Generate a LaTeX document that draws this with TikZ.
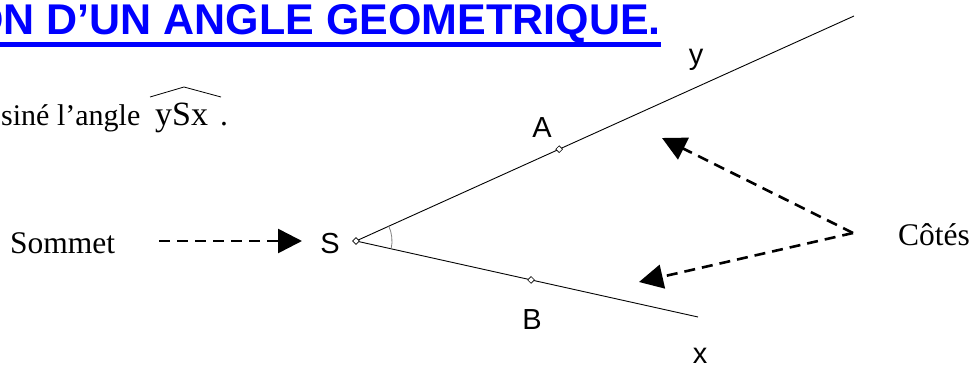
\documentclass[tikz,border=0pt]{standalone}
\usepackage{fontspec}
\setmainfont{Liberation Serif}
\setsansfont{Liberation Sans}
\usepackage{tikz}
\usetikzlibrary{shapes.geometric, arrows.meta, calc}
\definecolor{titleblue}{RGB}{0,0,255}

\begin{document}
\begin{tikzpicture}[x=1pt, y=1pt,
    point/.style={draw, diamond, fill=white, inner sep=0pt, minimum width=7pt, minimum height=7pt, line width=0.6pt},
    lbl/.style={font=\sffamily\fontsize{29}{29}\selectfont, inner sep=0pt, anchor=base},
    txt/.style={font=\fontsize{31.5}{32}\selectfont, inner sep=0pt, anchor=base west},
    pointer/.style={line width=2.6pt, dash pattern=on 11pt off 7pt, -{Triangle[length=24pt, width=24pt]}}]
    \clip (0,0) rectangle (971,365);
    % titre souligne
    \node[font=\sffamily\bfseries\fontsize{43}{44}\selectfont, text=titleblue, inner sep=0pt, anchor=base east] (title) at (661,330) {ON D’UN ANGLE GEOMETRIQUE.};
    \coordinate (ul) at (0,318);
    \fill[titleblue] (title.base west |- ul) rectangle ($(title.base east |- ul)+(0,5)$);
    \node[txt, font=\fontsize{30}{30}\selectfont] (intro) at (1,240) {siné l’angle};
    \node[txt, font=\fontsize{34}{34}\selectfont] (ysx) at (155,240) {ySx};
    \node[txt] (dot) at (220,240) {.};
    \draw[line width=0.8pt] (150,268) -- (184,278) -- (221,268);
    % les deux demi-droites
    \coordinate (S) at (356,124);
    \coordinate (yend) at (854,349);
    \coordinate (xend) at (698,48);
    \draw[line width=0.9pt] (S) -- (yend);
    \draw[line width=0.9pt] (S) -- (xend);
    \draw[gray, line width=0.8pt] ([shift={(-12.5:36)}]S) arc[start angle=-12.5, end angle=24.3, radius=36];
    \node[point] (vertex) at (S) {};
    \node[point] (A) at ($(S)!0.408!(yend)$) {};
    \node[point] (B) at ($(S)!0.512!(xend)$) {};
    \node[lbl] (ylabel) at (696,300) {y};
    \node[lbl] (alabel) at (542,228) {A};
    \node[lbl] (slabel) at (330,112) {S};
    \node[lbl] (blabel) at (532,36) {B};
    \node[lbl] (xlabel) at (700,2) {x};
    % legendes
    \node[txt] (sommet) at (10,112) {Sommet};
    \node[txt] (cotes) at (898,120) {Côtés};
    \coordinate (stail) at (159,124);
    \coordinate (fork) at (853,132);
    \coordinate (tipA) at (662,227);
    \coordinate (tipB) at (639,83);
    \draw[pointer, shorten >=54pt] (stail) -- (S);
    \draw[pointer] (fork) -- (tipA);
    \draw[pointer] (fork) -- (tipB);
\end{tikzpicture}
\end{document}
